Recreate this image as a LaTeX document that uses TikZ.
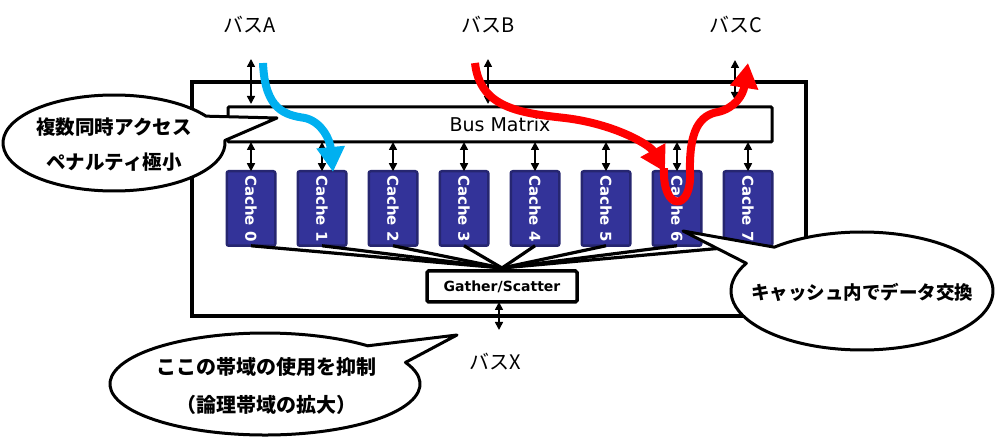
\documentclass[tikz,border=0pt]{standalone}
\usepackage{fontspec}
\newfontfamily\jp{Noto Sans CJK JP}
\newfontfamily\dv{DejaVu Sans}
\usetikzlibrary{arrows.meta,calc}
\definecolor{cachefill}{RGB}{51,51,153}
\definecolor{cacheline}{RGB}{38,38,112}
\definecolor{cyanarrow}{RGB}{0,176,240}
\definecolor{redarrow}{RGB}{255,0,0}
\tikzset{
  dbl/.style={line width=1.6pt,{Triangle[length=8pt,width=8pt]}-{Triangle[length=8pt,width=8pt]}},
  cachebox/.style={draw=cacheline,fill=cachefill,line width=2.5pt,rounded corners=2pt,
    minimum width=48.5pt,minimum height=74.5pt,inner sep=0pt,outer sep=0pt,text=white,
    font=\dv\bfseries\fontsize{15}{17}\selectfont},
  flow/.style={line width=8pt,-{Triangle[length=25pt,width=27pt]}},
  bubble/.style={draw=black,fill=white,line width=3pt,line join=round},
  bubbletext/.style={font=\jp\bfseries\fontsize{19.5}{35}\selectfont,align=center,inner sep=0pt},
  buslabel/.style={font=\jp\fontsize{20}{24}\selectfont,inner sep=0pt},
  gline/.style={line width=3.2pt},
}
\begin{document}
\begin{tikzpicture}[x=1pt,y=-1pt]
\useasboundingbox (0,0) rectangle (996,438);
% outer frame
\node[draw,line width=3.5pt,minimum width=614pt,minimum height=234pt,inner sep=0pt,outer sep=0pt] (outer) at (499,199) {};
% bus matrix
\node[draw,line width=3pt,rounded corners=1pt,minimum width=544pt,minimum height=35pt,inner sep=0pt,outer sep=0pt,
  font=\dv\fontsize{19}{22}\selectfont] (bm) at (500,124.5) {Bus Matrix};
% caches
\foreach \i in {0,...,7}{
  \node[cachebox] (c\i) at (251+71*\i,208.5) {\rotatebox{-90}{Cache \i}};
  \draw[dbl] (c\i.north |- bm.south) -- (c\i.north);
}
% gather/scatter
\node[draw,line width=3.5pt,rounded corners=1.5pt,minimum width=150pt,minimum height=31pt,inner sep=0pt,outer sep=0pt,
  font=\dv\bfseries\fontsize{14}{16}\selectfont] (gs) at (502,286.5) {Gather/Scatter};
\coordinate (gsTop) at ($(gs.north)+(0,-3)$);
\foreach \i in {0,...,7}{
  \draw[gline] (c\i.south) -- (gsTop);
}
% bus labels
\node[buslabel] (bA) at (250,25) {バスA};
\node[buslabel] (bB) at (488,25) {バスB};
\node[buslabel] (bC) at (736,25) {バスC};
\node[buslabel] (bX) at (495,362) {バスX};
\coordinate (tA) at (251,59);
\coordinate (tB) at (488,59);
\coordinate (tC) at (735,60);
\coordinate (tX) at (499,330);
\draw[dbl] (tA) -- ($(tA |- bm.north)+(0,-3)$);
\draw[dbl] (tB) -- ($(tB |- bm.north)+(0,-3)$);
\draw[dbl] (tC) -- ($(tC |- bm.north)+(0,-7)$);
\draw[dbl] (tX |- gs.south) -- (tX);
% flows
\draw[flow,cyanarrow] (263,63) .. controls (265,110) and (285,115) .. (305,118)
  .. controls (322,122) and (330,140) .. (333,172);
\draw[flow,redarrow] (475,63) .. controls (480,108) and (520,113) .. (565,118)
  .. controls (615,124) and (650,145) .. (665,172);
\draw[flow,redarrow] (664,168) .. controls (662,212) and (692,212) .. (690,172)
  .. controls (689,130) and (700,115) .. (718,112) .. controls (735,108) and (743,95) .. (748,63);
% callouts
\draw[bubble] ($(114,143)+(-3:111 and 48)$) arc[start angle=-3,end angle=326,x radius=111,y radius=48] -- (277,118) -- cycle;
\node[bubbletext] (t1) at (114,144.5) {複数同時アクセス\\ペナルティ極小};
\draw[bubble] ($(862,291)+(228:131 and 59)$) arc[start angle=228,end angle=568,x radius=131,y radius=59] -- (683,231) -- cycle;
\node[bubbletext,font=\jp\bfseries\fontsize{18.5}{22}\selectfont] (t2) at (862,292) {キャッシュ内でデータ交換};
\draw[bubble] ($(265,384)+(-25:155 and 51)$) arc[start angle=-25,end angle=311.5,x radius=155,y radius=51] -- (457,335) -- cycle;
\node[bubbletext,font=\jp\bfseries\fontsize{20}{38}\selectfont] (t3) at (266,386) {ここの帯域の使用を抑制\\（論理帯域の拡大）};
\end{tikzpicture}
\end{document}
